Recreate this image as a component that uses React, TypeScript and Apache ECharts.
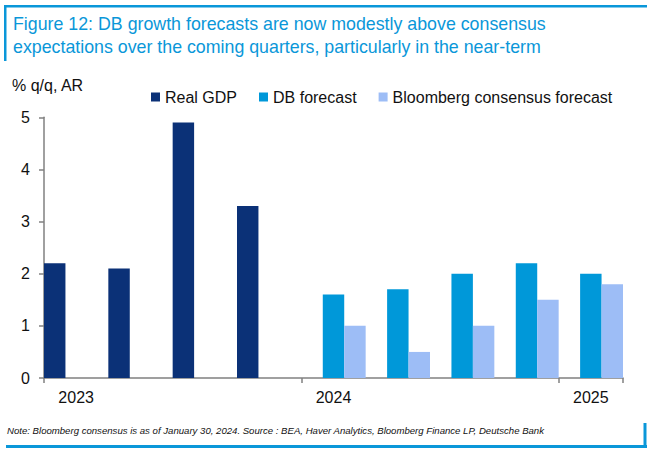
import React, { useEffect, useRef } from "react";
import * as echarts from "echarts";

const quarters = ["2023 Q1", "2023 Q2", "2023 Q3", "2023 Q4", "2024 Q1", "2024 Q2", "2024 Q3", "2024 Q4", "2025 Q1"];
const realGdp = [2.2, 2.1, 4.9, 3.3, null, null, null, null, null];
const dbForecast = [null, null, null, null, 1.6, 1.7, 2.0, 2.2, 2.0];
const consensus = [null, null, null, null, 1.0, 0.5, 1.0, 1.5, 1.8];
const yTicks = { min: 0, max: 5, interval: 1 };

const titleLines = [
  "Figure 12: DB growth forecasts are now modestly above consensus",
  "expectations over the coming quarters, particularly in the near-term",
];
const unitLabel = "% q/q, AR";
const noteText =
  "Note: Bloomberg consensus is as of January 30, 2024. Source : BEA, Haver Analytics, Bloomberg Finance LP, Deutsche Bank";

const BLUE = "#0a97d9";
const FONT = "'Liberation Sans', Arial, sans-serif";

export default function App() {
  const ref = useRef<HTMLDivElement>(null);
  useEffect(() => {
    document.body.style.margin = "0";
    if (!ref.current) return;
    const chart = echarts.init(ref.current, undefined, { renderer: "svg" });
    chart.setOption({
      animation: false,
      backgroundColor: "#ffffff",
      textStyle: { fontFamily: FONT },
      grid: { left: 44, right: 27, top: 117.3, bottom: 78, containLabel: false },
      legend: {
        left: 146,
        top: 84,
        itemWidth: 9,
        itemHeight: 9,
        itemGap: 22,
        icon: "rect",
        textStyle: { fontSize: 16, color: "#111", fontFamily: FONT },
        data: ["Real GDP", "DB forecast", "Bloomberg consensus forecast"],
      },
      xAxis: {
        type: "category",
        data: quarters,
        boundaryGap: true,
        axisLine: { show: true, lineStyle: { color: "#808080", width: 1.5 } },
        axisTick: {
          show: true,
          length: 5,
          interval: (i: number) => i % 4 === 0,
          lineStyle: { color: "#808080", width: 1.5 },
        },
        axisLabel: {
          interval: (i: number) => i % 4 === 0,
          formatter: (v: string) => v.slice(0, 4),
          fontSize: 16,
          color: "#111",
          margin: 11,
        },
      },
      yAxis: {
        type: "value",
        min: yTicks.min,
        max: yTicks.max,
        interval: yTicks.interval,
        axisLine: { show: true, lineStyle: { color: "#808080", width: 1.5 } },
        axisTick: { show: true, length: 5, lineStyle: { color: "#808080", width: 1.5 } },
        splitLine: { show: false },
        axisLabel: { fontSize: 16, color: "#111", margin: 14 },
      },
      series: [
        { name: "Real GDP", type: "bar", data: realGdp, itemStyle: { color: "#0b3177" }, barGap: "0%", barCategoryGap: "0%" },
        { name: "DB forecast", type: "bar", data: dbForecast, itemStyle: { color: "#0098d9" }, barGap: "0%", barCategoryGap: "0%" },
        { name: "Bloomberg consensus forecast", type: "bar", data: consensus, itemStyle: { color: "#9dbdf6" }, barGap: "0%", barCategoryGap: "0%" },
      ],
      graphic: [
        { type: "rect", shape: { x: 4, y: 5, width: 643, height: 2.5 }, style: { fill: BLUE } },
        { type: "rect", shape: { x: 4, y: 5, width: 2.5, height: 56 }, style: { fill: BLUE } },
        { type: "rect", shape: { x: 6, y: 445, width: 641, height: 3 }, style: { fill: BLUE } },
        { type: "rect", shape: { x: 643.5, y: 423, width: 3, height: 25 }, style: { fill: BLUE } },
        {
          type: "text",
          x: 13,
          y: 24,
          style: { text: titleLines[0], fill: BLUE, font: `17.8px ${FONT}`, verticalAlign: "middle" },
        },
        {
          type: "text",
          x: 13,
          y: 47,
          style: { text: titleLines[1], fill: BLUE, font: `17.8px ${FONT}`, verticalAlign: "middle" },
        },
        {
          type: "text",
          x: 12,
          y: 85,
          style: { text: unitLabel, fill: "#111", font: `16px ${FONT}`, verticalAlign: "middle" },
        },
        {
          type: "text",
          x: 7,
          y: 430,
          style: { text: noteText, fill: "#111", font: `italic 9.6px ${FONT}`, verticalAlign: "middle" },
        },
      ],
    });
    return () => chart.dispose();
  }, []);
  return <div ref={ref} style={{ width: 650, height: 456 }} />;
}
